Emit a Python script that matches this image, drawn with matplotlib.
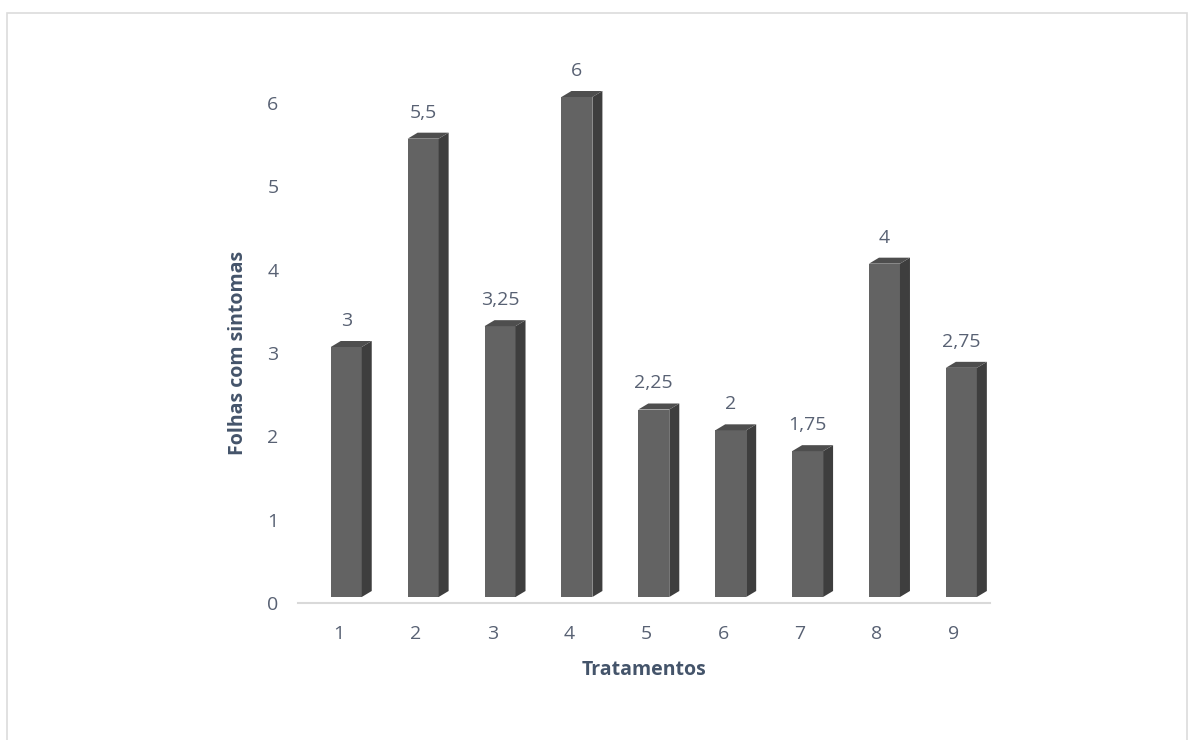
import matplotlib
matplotlib.use("Agg")
import matplotlib.pyplot as plt
from matplotlib.patches import Polygon, Rectangle

# Data
tratamentos = ["1", "2", "3", "4", "5", "6", "7", "8", "9"]
folhas = [3, 5.5, 3.25, 6, 2.25, 2, 1.75, 4, 2.75]
y_ticks = [0, 1, 2, 3, 4, 5, 6]

plt.rcParams["font.family"] = ["Open Sans", "DejaVu Sans"]

W, H, DPI = 1194, 740, 100
fig = plt.figure(figsize=(W / DPI, H / DPI), dpi=DPI)
fig.patch.set_facecolor("white")

# Chart area frame
fig.add_artist(Rectangle((7 / W, -0.05), (1187 - 7) / W, 1.05 - 13 / H,
                         transform=fig.transFigure, fill=False,
                         edgecolor="#dcdcdc", linewidth=1.2))

x0, x1, yb, yt = 298, 990, 603, 103
ax = fig.add_axes([x0 / W, 1 - yb / H, (x1 - x0) / W, (yb - yt) / H])
ax.set_xlim(-0.53, 8.47)
ax.set_ylim(0, 6)

# pixel -> data scale factors
px_x = 8.997 / (x1 - x0)
px_y = 6.0 / (yb - yt)

front_w = 31 * px_x       # width of front face
front_off = -8 * px_x     # left edge of front relative to category position
dx, dy = 10 * px_x, 6 * px_y   # depth of the 3D prism
lift = 6 * px_y           # front face sits slightly above the floor line

c_front, c_side, c_top = "#636363", "#3e3e3e", "#4e4e4e"
tick_col, title_col = "#586173", "#44546a"

for i, v in enumerate(folhas):
    xl = i + front_off
    xr = xl + front_w
    yb0 = lift
    yt0 = lift + v
    front = Polygon([(xl, yb0), (xr, yb0), (xr, yt0), (xl, yt0)],
                    closed=True, facecolor=c_front, edgecolor="none", clip_on=False, zorder=3)
    side = Polygon([(xr, yb0), (xr + dx, yb0 + dy), (xr + dx, yt0 + dy), (xr, yt0)],
                   closed=True, facecolor=c_side, edgecolor="none", clip_on=False, zorder=3)
    top = Polygon([(xl, yt0), (xr, yt0), (xr + dx, yt0 + dy), (xl + dx, yt0 + dy)],
                  closed=True, facecolor=c_top, edgecolor="none", clip_on=False, zorder=3)
    for p in (front, side, top):
        ax.add_patch(p)
    label = f"{v:g}".replace(".", ",")
    ax.text((xl + xr) / 2, yt0 + dy + 20 * px_y, label, ha="center", va="center",
            fontsize=14, color=tick_col, zorder=4)

for s in ("top", "right", "left"):
    ax.spines[s].set_visible(False)
ax.spines["bottom"].set_color("#d9d9d9")
ax.spines["bottom"].set_linewidth(1.5)
ax.set_facecolor("none")

ax.set_xticks(range(len(tratamentos)))
ax.set_xticklabels(tratamentos)
ax.set_yticks(y_ticks)
ax.set_yticklabels([str(t) for t in y_ticks])
ax.tick_params(axis="x", length=0, pad=16, labelsize=14, labelcolor=tick_col)
ax.tick_params(axis="y", length=0, pad=14, labelsize=14, labelcolor=tick_col)

ax.set_xlabel("Tratamentos", fontsize=14, fontweight="bold", color=title_col, labelpad=12)
ax.set_ylabel("Folhas com sintomas", fontsize=14, fontweight="bold", color=title_col, labelpad=14)

fig.savefig("out.png", dpi=DPI)
